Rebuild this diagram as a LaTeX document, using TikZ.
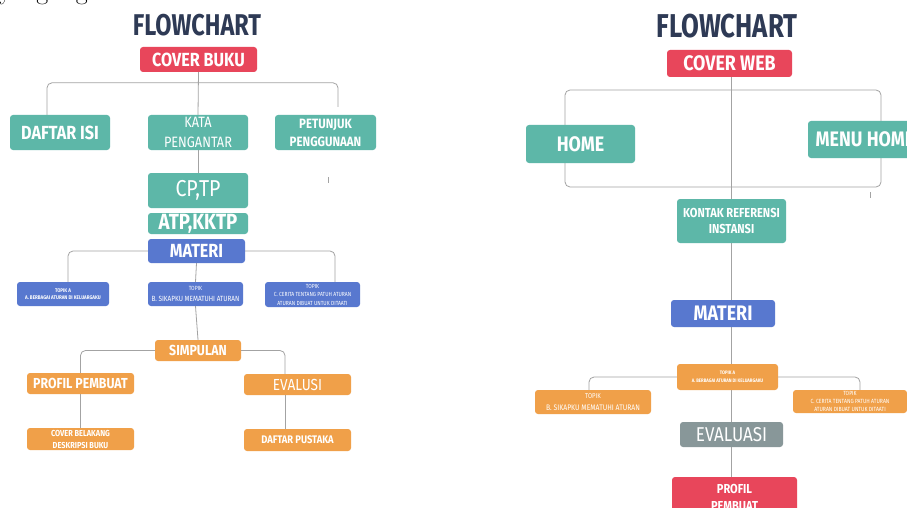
\documentclass[tikz,border=0pt]{standalone}
\usepackage{fontspec}
\newfontfamily\cf{Fira Sans}[FakeStretch=0.85]
\usetikzlibrary{backgrounds}
\definecolor{tealbox}{HTML}{5DB7A8}
\definecolor{redbox}{HTML}{E8465B}
\definecolor{bluebox}{HTML}{5878CF}
\definecolor{orangebox}{HTML}{F0A049}
\definecolor{graybox}{HTML}{889799}
\definecolor{navy}{HTML}{2E3A55}
\definecolor{linegray}{HTML}{A3A3A3}
\newcommand\fsz[2]{\fontsize{#1}{#2}\selectfont}
\begin{document}
\begin{tikzpicture}[x=1pt,y=-1pt,
  box/.style={rectangle, rounded corners=3pt, inner sep=0pt, text=white, align=center},
  tealb/.style={box, fill=tealbox},
  redb/.style={box, fill=redbox},
  blueb/.style={box, fill=bluebox},
  orangeb/.style={box, fill=orangebox},
  grayb/.style={box, fill=graybox},
  bold/.style={font=\cf\bfseries\fsz{#1}{#1}},
  reg/.style={font=\cf\fsz{#1}{#1}},
  title/.style={text=navy, font=\cf\bfseries\fsz{#1}{#1}, inner sep=0pt},
  conn/.style={draw=linegray, line width=0.8pt, rounded corners=5pt},
  framebox/.style={draw=linegray, line width=0.8pt, rounded corners=5pt, minimum width=316pt, minimum height=97pt, inner sep=0pt},
]
\useasboundingbox (0,0) rectangle (907,508);

% cut-off serif text at top-left
\node[anchor=base west, inner sep=0pt, font=\rmfamily\fsz{26}{26}] (cut) at (-1,-0.5) {yang digunakan};

% ---------------- left chart ----------------
\node[title=30, xscale=0.92] (t1) at (197,25) {FLOWCHART};
\node[redb, bold=19, minimum width=117pt, minimum height=25pt] (cover) at (198.5,59.5) {COVER BUKU};
\node[tealb, bold=19, minimum width=100pt, minimum height=35pt] (daftar) at (60,132.5) {DAFTAR ISI};
\node[tealb, font=\cf\fsz{15}{20}, minimum width=100pt, minimum height=35pt] (kata) at (198,132.5) {KATA\\PENGANTAR};
\node[tealb, font=\cf\bfseries\fsz{13.5}{18}, minimum width=101pt, minimum height=35pt] (petunjuk) at (325.5,132.5) {PETUNJUK\\PENGGUNAAN};
\coordinate (pend) at (338,107);
\node[tealb, reg=23, minimum width=100pt, minimum height=35pt] (cptp) at (198,190.5) {CP,TP};
\node[tealb, bold=22, minimum width=100pt, minimum height=21pt] (atp) at (198,223.5) {ATP,KKTP};
\node[blueb, bold=19, minimum width=97pt, minimum height=24pt] (materi1) at (196.5,251) {MATERI};
\node[blueb, font=\cf\bfseries\fsz{5.3}{7}, minimum width=92pt, minimum height=24pt] (topA1) at (63,294) {TOPIK A\\A. BERBAGAI ATURAN DI KELUARGAKU};
\node[blueb, font=\cf\fsz{7.5}{11}, minimum width=95pt, minimum height=24pt] (topB1) at (195.5,294) {{\fsz{6}{11}TOPIK}\\B. SIKAPKU MEMATUHI ATURAN};
\node[blueb, font=\cf\fsz{5.9}{8.5}, minimum width=95pt, minimum height=25pt] (topC1) at (312.5,294.5) {TOPIK\\C. CERITA TENTANG PATUH ATURAN\\ATURAN DIBUAT UNTUK DITAATI};
\node[orangeb, bold=14.5, minimum width=86pt, minimum height=21pt] (simp) at (198,350.5) {SIMPULAN};
\node[orangeb, bold=14.5, minimum width=107pt, minimum height=21pt] (profil1) at (80.5,383.5) {PROFIL PEMBUAT};
\node[orangeb, reg=16, minimum width=107pt, minimum height=21pt] (evalusi) at (297.5,384.5) {EVALUSI};
\node[orangeb, font=\cf\bfseries\fsz{8.7}{12}, minimum width=107pt, minimum height=22pt] (cover2) at (80.5,439) {COVER BELAKANG\\DESKRIPSI BUKU};
\node[orangeb, bold=11, minimum width=107pt, minimum height=22pt] (dp) at (297.5,440) {DAFTAR PUSTAKA};

% ---------------- right chart ----------------
\node[title=33, xscale=0.92] (t2) at (727,26) {FLOWCHART};
\node[redb, bold=21, minimum width=125pt, minimum height=27pt] (cw) at (729.5,63.5) {COVER WEB};
\node[framebox] (frame) at (723,138.5) {};
\node[tealb, bold=21, minimum width=109pt, minimum height=38pt] (home) at (580.5,144) {HOME};
\node[tealb, bold=21, minimum width=114pt, minimum height=37pt] (menu) at (865,139.5) {MENU HOME};
\node[tealb, font=\cf\bfseries\fsz{13}{16}, minimum width=109pt, minimum height=44pt] (kontak) at (731.5,221) {KONTAK REFERENSI\\INSTANSI};
\node[blueb, bold=21, minimum width=104pt, minimum height=27pt] (materi2) at (723,313.5) {MATERI};
\node[orangeb, font=\cf\bfseries\fsz{5}{8}, minimum width=101pt, minimum height=26pt] (topA2) at (727.5,377) {TOPIK A\\A. BERBAGAI ATURAN DI KELUARGAKU};
\node[orangeb, font=\cf\fsz{8}{12}, minimum width=116pt, minimum height=24pt] (topB2) at (593,402) {{\fsz{7}{12}TOPIK}\\B. SIKAPKU MEMATUHI ATURAN};
\node[orangeb, font=\cf\fsz{6}{8}, minimum width=114pt, minimum height=23pt] (topC2) at (850,401.5) {TOPIK\\C. CERITA TENTANG PATUH ATURAN\\ATURAN DIBUAT UNTUK DITAATI};
\node[grayb, reg=20, minimum width=103pt, minimum height=25pt] (eval2) at (731.5,434.5) {EVALUASI};
\node[redb, font=\cf\bfseries\fsz{13}{17}, minimum width=125pt, minimum height=40pt] (profil2) at (734.5,497) {PROFIL\\PEMBUAT};

% ---------------- connectors ----------------
\begin{scope}[on background layer]
  \fill[white] (0,0) rectangle (907,508);
  % left
  \draw[conn] (cover.south) -- (kata.north);
  \draw[conn] ([xshift=-13pt]daftar.north) -- ++(0,-32) -| (pend);
  \draw[conn] (kata.south) -- (cptp.north);
  \draw[conn] (materi1.west) -| ([xshift=5pt]topA1.north);
  \draw[conn] (materi1.east) -| ([xshift=22.5pt]topC1.north);
  \draw[conn] (materi1.south) -- (topB1.north);
  \draw[conn] (topB1.south) -- (simp.north);
  \draw[conn] (simp.west) -| (profil1.north);
  \draw[conn] (simp.east) -| ([xshift=-12.5pt]evalusi.north);
  \draw[conn] (profil1.south) -- (cover2.north);
  \draw[conn] ([xshift=-12.5pt]evalusi.south) -- ([xshift=-12.5pt]dp.north);
  % right
  \draw[conn] (cw.south -| kontak.north) -- (kontak.north);
  \draw[conn] (kontak.south) -- (kontak.south |- profil2.north);
  \draw[conn] (topA2.west) -| ([xshift=-4pt]topB2.north);
  \draw[conn] (topA2.east) -| ([xshift=10pt]topC2.north);
\end{scope}

% stray tick marks
\draw[draw=linegray, line width=0.8pt] (328,177) -- (328,183);
\draw[draw=linegray, line width=0.8pt] (870,192) -- (870,198);
\end{tikzpicture}
\end{document}
